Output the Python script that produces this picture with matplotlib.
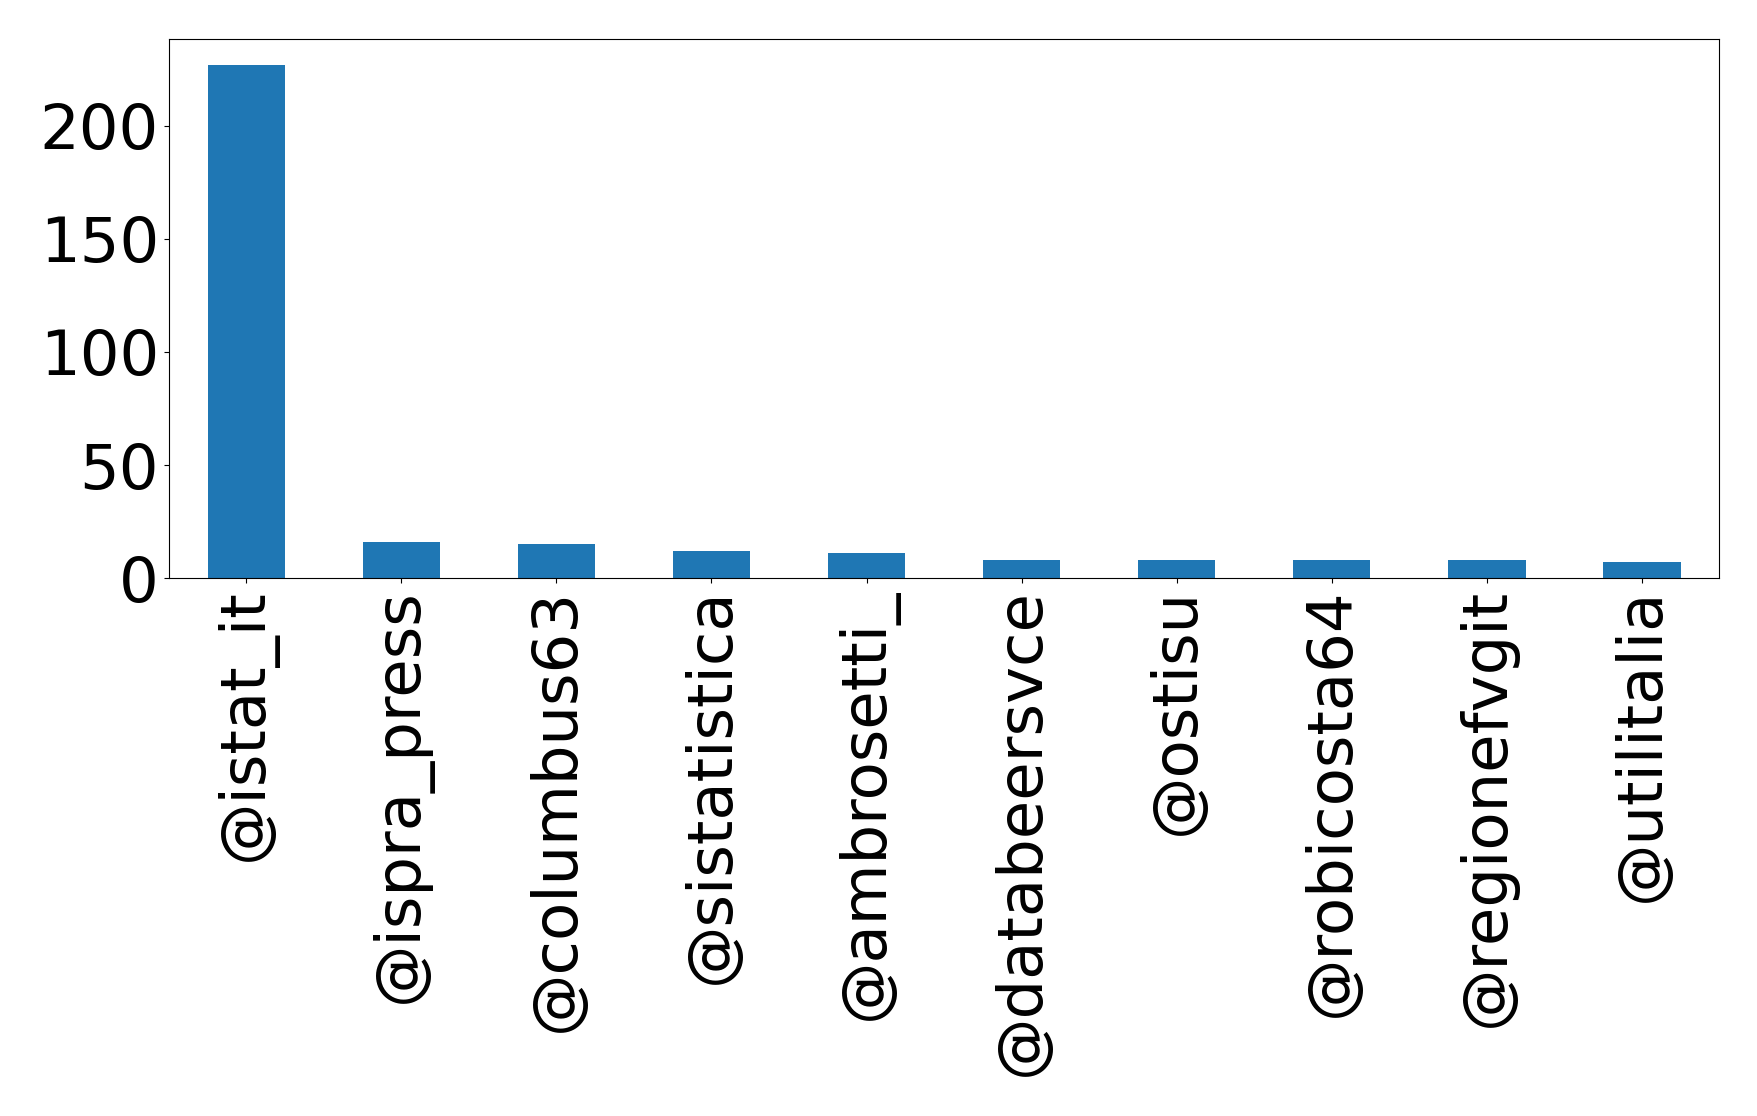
import matplotlib
matplotlib.use('Agg')
import matplotlib.pyplot as plt
import numpy as np

# accounts and mention counts
accounts = ['@istat_it', '@ispra_press', '@columbus63', '@sistatistica',
            '@ambrosetti_', '@databeersvce', '@ostisu', '@robicosta64',
            '@regionefvgit', '@utilitalia']
counts = [227, 16, 15, 12, 11, 8, 8, 8, 8, 7]
yticks = [0, 50, 100, 150, 200]

fig, ax = plt.subplots(figsize=(17.58, 11.16), dpi=100)
x = np.arange(len(accounts))
ax.bar(x, counts, width=0.5, color='#1f77b4')
ax.set_xlim(-0.5, len(accounts) - 0.5)
ax.set_xticks(x)
ax.set_xticklabels(accounts, rotation=90)
ax.set_yticks(yticks)
ax.tick_params(axis='both', labelsize=45)

plt.subplots_adjust(left=0.096, right=0.978, top=0.965, bottom=0.482)
plt.savefig('out.png')
